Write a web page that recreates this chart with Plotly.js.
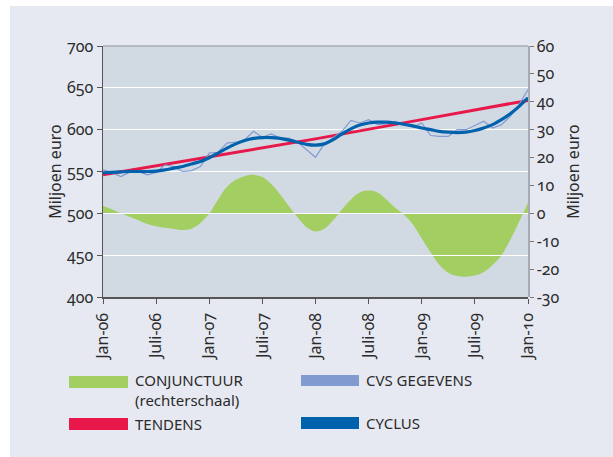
<!DOCTYPE html>
<html><head><meta charset="utf-8">
<script src="https://cdn.plot.ly/plotly-3.0.1.min.js"></script>
<style>
html,body{margin:0;padding:0;background:#ffffff;}
#chart{position:absolute;left:10px;top:6px;width:603px;height:451px;}
.main-svg text{font-variant-numeric: oldstyle-nums; font-feature-settings: "onum" 1;}
</style></head><body><div id="chart"></div><script>
// month index 0 = Jan-06 ... 48 = Jan-10
const months = [0,1,2,3,4,5,6,7,8,9,10,11,12,13,14,15,16,17,18,19,20,21,22,23,24,25,26,27,28,29,30,31,32,33,34,35,36,37,38,39,40,41,42,43,44,45,46,47,48];
const conjunctuur = [2.6,1.5,0,-1.2,-2.5,-3.8,-4.6,-5.2,-5.6,-6.0,-5.5,-3.5,0,5,9.5,12,13.3,13.8,13,10.5,6.8,2.5,-1.5,-5,-6.5,-5.5,-2.5,1.5,5,7.5,8.2,7.5,5,2,-0.5,-4,-9,-14,-18.5,-21.3,-22.5,-22.7,-22.3,-21,-18.5,-15,-9.5,-3,3.8];
const cvsGegevens = [552,549,544,549,550,546,549,558,556,550,551,556,572,573,584,585,588,598,591,595,590,590,585,576,567,583,591,598,611,608,612,606,607,610,605,603,608,593,592,592,600,600,605,610,602,606,616,630,648];
const cyclus = [548.5,549,549.5,550,550,550,550.5,552,554,556,559,562,566.5,572,578,583,587,589.5,590.5,590.5,589.5,587.5,585,582.5,581.5,583,588,595,601,605.5,608,609,609,608,606.5,604.5,602,600,598,597,596.5,597,599,602,606,612,619,628,638];
const tendensMonths = [0,12,24,36,48];
const tendens = [546,567.5,589,612,635];
const xTickVals = [0,6,12,18,24,30,36,42,48];
const xTickText = ['Jan-06','Juli-06','Jan-07','Juli-07','Jan-08','Juli-08','Jan-09','Juli-09','Jan-10'];
const leftTicks = [400,450,500,550,600,650,700];
const rightTicks = [-30,-20,-10,0,10,20,30,40,50,60];
const rightTickText = ['-30','-20','-10','0','10','20','30','40','50','60'];
const legendLabels = ['CONJUNCTUUR<br>(rechterschaal)','TENDENS','CVS GEGEVENS','CYCLUS'];

const cGreen = '#a3cf62', cRed = '#e8194a', cLight = '#819bd0', cDark = '#0061ad';
const FONT = '"Noto Sans", "DejaVu Sans", sans-serif';
const txt = '#2b2b2b';
const FS = 16;

const traces = [
  {x: months, y: conjunctuur, xaxis:'x', yaxis:'y2', type:'scatter', mode:'lines',
   line:{width:0, shape:'spline', color:cGreen}, fill:'tozeroy', fillcolor:cGreen, hoverinfo:'skip'},
  {x: tendensMonths, y: tendens, xaxis:'x2', yaxis:'y3', type:'scatter', mode:'lines',
   line:{width:3, color:cRed}},
  {x: months, y: cvsGegevens, xaxis:'x2', yaxis:'y3', type:'scatter', mode:'lines',
   line:{width:1.2, color:cLight}},
  {x: months, y: cyclus, xaxis:'x2', yaxis:'y3', type:'scatter', mode:'lines',
   line:{width:3.2, color:cDark, shape:'spline'}}
];

function px2x(p){ return (p-103)/425; }
function px2y(p){ return (297-p)/251; }

const shapes = [
  {type:'rect', xref:'paper', yref:'paper', x0:0, x1:1, y0:0, y1:1, fillcolor:'#d1d9e3', line:{width:0}, layer:'below'},
  {type:'line', xref:'paper', yref:'paper', x0:0, x1:1, y0:1, y1:1, line:{color:'#a6abb3', width:1.5}, layer:'above'},
  {type:'rect', xref:'paper', yref:'paper', x0:px2x(69), x1:px2x(128), y0:px2y(376), y1:px2y(388), fillcolor:cGreen, line:{width:0}},
  {type:'rect', xref:'paper', yref:'paper', x0:px2x(69), x1:px2x(128), y0:px2y(418), y1:px2y(430), fillcolor:cRed, line:{width:0}},
  {type:'rect', xref:'paper', yref:'paper', x0:px2x(301), x1:px2x(359), y0:px2y(375), y1:px2y(386), fillcolor:cLight, line:{width:0}},
  {type:'rect', xref:'paper', yref:'paper', x0:px2x(301), x1:px2x(359), y0:px2y(417), y1:px2y(429), fillcolor:cDark, line:{width:0}}
];
function ann(text, px, py){
  return {text:text, xref:'paper', yref:'paper', x:px2x(px), y:px2y(py), xanchor:'left', yanchor:'middle', align:'left',
    showarrow:false, font:{family:FONT, size:15, color:txt}};
}
const annotations = [
  ann(legendLabels[0], 133, 389.5),
  ann(legendLabels[1], 133, 424),
  ann(legendLabels[2], 364, 380),
  ann(legendLabels[3], 364, 423)
];

const layout = {
  width:603, height:451,
  margin:{l:93, r:85, t:40, b:160},
  paper_bgcolor:'#e6e9f1', plot_bgcolor:'rgba(0,0,0,0)',
  showlegend:false,
  font:{family:FONT, size:FS, color:txt},
  xaxis:{range:[0,48], domain:[0,1], anchor:'y2', visible:false, fixedrange:true},
  yaxis2:{range:[-30,60], domain:[0,1], side:'right', anchor:'x', tickvals:rightTicks, ticktext:rightTickText,
    showgrid:false, zeroline:false, showline:true, linecolor:'#a6abb3', linewidth:1.5,
    ticks:'outside', ticklen:4, tickcolor:'#777', tickfont:{family:FONT, size:FS, color:txt},
    title:{text:'Miljoen euro', font:{family:FONT, size:FS, color:txt}, standoff:8}},
  xaxis2:{range:[0,48], domain:[0,1], anchor:'y3', side:'bottom', tickvals:xTickVals, ticktext:xTickText, tickangle:-90,
    showgrid:false, zeroline:false, showline:true, linecolor:'#555', linewidth:1.5,
    ticks:'outside', ticklen:5, tickcolor:'#555', ticklabelstandoff:3, tickfont:{family:FONT, size:FS, color:txt}},
  yaxis3:{range:[400,700], domain:[0,1], anchor:'x2', side:'left', tickvals:leftTicks, showgrid:true, gridcolor:'#ffffff', gridwidth:1.3,
    zeroline:false, showline:true, linecolor:'#555', linewidth:1.5,
    ticks:'outside', ticklen:5, tickcolor:'#555', tickfont:{family:FONT, size:FS, color:txt},
    title:{text:'Miljoen euro', font:{family:FONT, size:FS, color:txt}, standoff:0}},
  shapes:shapes,
  annotations:annotations
};
Plotly.newPlot('chart', traces, layout, {staticPlot:true, displayModeBar:false});
</script></body></html>
